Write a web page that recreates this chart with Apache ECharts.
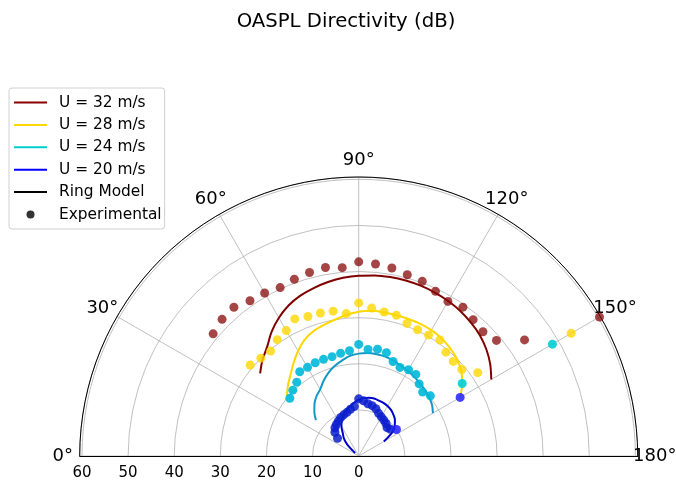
<!DOCTYPE html>
<html>
<head>
<meta charset="utf-8">
<script src="https://cdn.jsdelivr.net/npm/echarts@6/dist/echarts.min.js"></script>
<style>
  html, body { margin: 0; padding: 0; background: #ffffff; }
  #chart { width: 676px; height: 482px; }
</style>
</head>
<body>
<div id="chart"></div>
<script>
// Directivity angles (deg), 0 at the left, 180 at the right
const ANGLES = [40, 45, 50, 55, 60, 65, 70, 75, 80, 85, 90, 95, 100, 105, 110, 115, 120, 125, 130, 135, 140, 145, 150];

const SPEED_LABELS = ['U = 32 m/s', 'U = 28 m/s', 'U = 24 m/s', 'U = 20 m/s'];

// Ring model predictions
const RING_32 = [27.9, 29.5, 30.9, 32.9, 34.6, 36.0, 37.0, 37.7, 38.3, 38.8, 39.1, 39.3, 39.4, 39.4, 39.3, 39.1, 38.8, 38.4, 37.8, 37.1, 36.1, 34.8, 33.2];
const RING_28 = [20.3, 21.7, 23.0, 24.6, 26.3, 27.8, 28.8, 29.4, 30.0, 30.7, 31.3, 31.6, 31.6, 31.6, 31.6, 31.6, 31.5, 31.2, 30.7, 30.0, 29.0, 27.4, 25.4];
const RING_24 = [12.1, 13.6, 14.9, 15.9, 16.7, 18.0, 19.2, 20.2, 21.0, 21.8, 22.2, 22.4, 22.4, 22.3, 22.0, 21.6, 21.3, 21.0, 20.6, 20.3, 19.9, 19.4, 18.6];
const RING_20 = [1.0, 3.5, 5.0, 6.0, 7.5, 8.6, 9.5, 10.3, 10.9, 11.6, 12.2, 12.6, 12.8, 12.9, 12.8, 12.7, 12.5, 12.2, 11.7, 11.1, 10.2, 8.8, 6.3];

// Measured OASPL
const EXP_32 = [41.2, 41.9, 42.1, 41.1, 40.8, 40.3, 40.8, 41.2, 41.5, 41.0, 42.1, 41.8, 41.4, 40.7, 40.3, 39.4, 38.7, 39.4, 38.6, 38.1, 39.0, 43.9, 60.3];
const EXP_28 = [30.7, 30.0, 29.7, 30.8, 31.4, 32.8, 32.2, 32.1, 31.9, 31.0, 33.2, 32.2, 31.7, 31.6, 30.6, 30.2, 30.3, 30.7, 29.4, 29.0, 29.2, 31.5, 53.2];
const EXP_24 = [19.5, 20.2, 20.9, 22.3, 22.2, 22.3, 22.3, 22.3, 22.6, 22.9, 24.2, 23.2, 23.5, 23.2, 21.8, 21.2, 21.6, 21.6, 20.4, 19.6, 20.3, 27.4, 48.5];
const EXP_20 = [6.0, 7.3, 8.0, 8.4, 8.8, 9.2, 9.5, 9.8, 10.3, 10.8, 12.4, 12.0, 11.5, 11.3, 10.9, 10.2, 9.8, 9.5, 9.2, 8.7, 9.0, 10.0, 25.4];

const ANGLE_TICKS = [0, 30, 60, 90, 120, 150, 180];
const RADIAL_TICKS = [0, 10, 20, 30, 40, 50, 60];

const FONT = 'DejaVu Sans';
const CENTER = [358.7, 456];
const OUTER_PX = 279;
const R_MAX = 60.5;
const ANGLE_LABEL_R = R_MAX * 296 / OUTER_PX;

const LINE_COLORS = ['#800000', '#ffd700', '#1598c6', '#0000cd'];
const LEGEND_COLORS = ['#8b0000', '#ffd700', '#00ced1', '#0000ff'];
const POINT_COLORS = ['#850606', '#ffd700', '#00b8d8', '#0a1ecc'];
const POINT_OPACITY = [0.74, 0.8, 0.9, 0.85];
const TAIL_COLORS = [null, null, '#00ced1', '#2020ff'];

const ringSets = [RING_32, RING_28, RING_24, RING_20];
const expSets = [EXP_32, EXP_28, EXP_24, EXP_20];

function toPolar(values) {
  return values.map((r, i) => [r, ANGLES[i]]);
}

const series = [];
SPEED_LABELS.forEach((label, k) => {
  series.push({
    name: label,
    type: 'line',
    coordinateSystem: 'polar',
    polarIndex: 0,
    data: toPolar(ringSets[k]),
    symbol: 'none',
    smooth: 0.3,
    lineStyle: { color: LINE_COLORS[k], width: 2 },
    itemStyle: { color: LINE_COLORS[k] },
    z: 3
  });
  series.push({
    name: label + ' (exp)',
    type: 'scatter',
    coordinateSystem: 'polar',
    polarIndex: 0,
    data: toPolar(expSets[k]),
    symbolSize: 9,
    itemStyle: {
      color: (p) => (p.dataIndex >= ANGLES.length - 2 && TAIL_COLORS[k]) ? TAIL_COLORS[k] : POINT_COLORS[k],
      opacity: POINT_OPACITY[k]
    },
    z: 4
  });
});
// legend-only entries
series.push({ name: 'Ring Model', type: 'line', coordinateSystem: 'polar', polarIndex: 0, data: [], symbol: 'none', itemStyle: { color: '#000' }, lineStyle: { color: '#000' } });
series.push({ name: 'Experimental', type: 'scatter', coordinateSystem: 'polar', polarIndex: 0, data: [], itemStyle: { color: '#000' } });

const LINE_ICON = 'path://M0,0M0,3h33v2h-33zM33,8';

const legendData = SPEED_LABELS.map((label, k) => ({
  name: label, icon: LINE_ICON, itemStyle: { color: LEGEND_COLORS[k] }
}));
legendData.push({ name: 'Ring Model', icon: LINE_ICON, itemStyle: { color: '#000' } });
legendData.push({ name: 'Experimental', icon: 'circle', itemStyle: { color: '#000' } });

const chart = echarts.init(document.getElementById('chart'), null, { renderer: 'canvas' });

chart.setOption({
  animation: false,
  backgroundColor: '#ffffff',
  title: {
    text: 'OASPL Directivity (dB)',
    left: 341,
    top: 7,
    textAlign: 'center',
    textStyle: { fontFamily: FONT, fontSize: 19.7, fontWeight: 'normal', color: '#000' }
  },
  legend: {
    orient: 'vertical',
    left: 9,
    top: 88,
    padding: [6, 3, 6, 5],
    itemWidth: 33,
    itemHeight: 8,
    itemGap: 5.4,
    backgroundColor: '#ffffff',
    borderColor: '#d0d0d0',
    borderWidth: 1,
    borderRadius: 3,
    itemStyle: { borderWidth: 0 },
    selectedMode: false,
    textStyle: { fontFamily: FONT, fontSize: 15.4, color: '#000', lineHeight: 17, padding: [0, 0, 0, 7] },
    data: legendData
  },
  polar: [
    { center: CENTER, radius: OUTER_PX },
    { center: CENTER, radius: OUTER_PX }
  ],
  angleAxis: [
    {
      polarIndex: 0,
      type: 'value',
      min: 0, max: 180, interval: 30,
      startAngle: 180, endAngle: 0, clockwise: true,
      axisLine: { show: true, lineStyle: { color: '#000', width: 1 } },
      axisTick: { show: false },
      axisLabel: { show: false },
      splitLine: { show: true, lineStyle: { color: '#b0b0b0', width: 0.8 } }
    },
    {
      polarIndex: 1,
      type: 'value',
      min: 0, max: 180, interval: 30,
      startAngle: 0, endAngle: 180, clockwise: false,
      axisLine: { show: false },
      axisTick: { show: false },
      axisLabel: { show: false },
      splitLine: { show: false }
    }
  ],
  radiusAxis: [
    {
      polarIndex: 0,
      type: 'value',
      min: RADIAL_TICKS[0], max: R_MAX, interval: 10,
      axisLine: { show: true, lineStyle: { color: '#000', width: 1 } },
      axisTick: { show: false },
      axisLabel: {
        show: true, margin: 10, fontFamily: FONT, fontSize: 15, color: '#000',
        formatter: (v) => RADIAL_TICKS.includes(v) ? String(v) : ''
      },
      splitLine: { show: true, lineStyle: { color: '#b0b0b0', width: 0.8 } }
    },
    {
      polarIndex: 1,
      type: 'value',
      min: 0, max: R_MAX, interval: 10,
      axisLine: { show: true, lineStyle: { color: '#000', width: 1 } },
      axisTick: { show: false },
      axisLabel: { show: false },
      splitLine: { show: false }
    }
  ],
  series: series
});

// Angle tick labels, centred on a ring just outside the outer spine
const angleLabels = ANGLE_TICKS.map((a) => {
  const pt = chart.convertToPixel({ polarIndex: 0 }, [ANGLE_LABEL_R, a]);
  return {
    type: 'text',
    x: pt[0],
    y: pt[1],
    silent: true,
    style: {
      text: a + '°',
      font: '18px "' + FONT + '"',
      fill: '#000',
      align: 'center',
      verticalAlign: 'middle'
    }
  };
});
chart.setOption({ graphic: angleLabels });
</script>
</body>
</html>
